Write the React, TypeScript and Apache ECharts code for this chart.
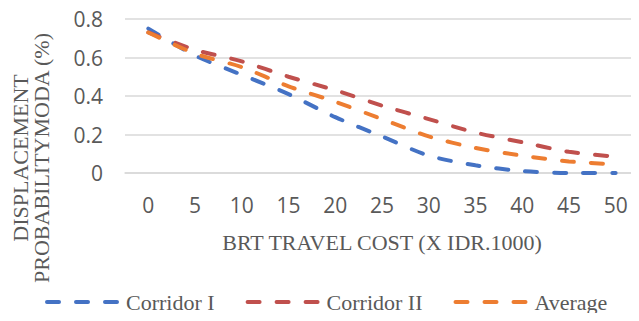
import React, { useEffect, useRef } from "react";
import * as echarts from "echarts";

// BRT travel cost categories (x 1000 IDR)
const costs = ["0", "5", "10", "15", "20", "25", "30", "35", "40", "45", "50"];

// Displacement probability per corridor
const corridorI = [0.75, 0.61, 0.51, 0.41, 0.29, 0.19, 0.09, 0.04, 0.01, 0.0, 0.0];
const corridorII = [0.73, 0.64, 0.58, 0.5, 0.43, 0.35, 0.28, 0.21, 0.16, 0.11, 0.085];
const average = [0.73, 0.62, 0.55, 0.45, 0.37, 0.28, 0.19, 0.13, 0.09, 0.06, 0.045];

const seriesNames = ["Corridor I", "Corridor II", "Average"];
const seriesColors = ["#4472C4", "#C0504D", "#ED7D31"];

const yTitle = "DISPLACEMENT\nPROBABILITYMODA (%)";
const xTitle = "BRT TRAVEL COST (X IDR.1000)";

const SERIF = "'Liberation Serif', 'Times New Roman', serif";
const SANS = "'Open Sans', 'Noto Sans', sans-serif";
const TEXT = "#595959";

export default function App() {
  const ref = useRef<HTMLDivElement>(null);

  useEffect(() => {
    if (!ref.current) return;
    const chart = echarts.init(ref.current, undefined, { renderer: "svg" });

    const mkSeries = (name: string, data: number[], color: string) => ({
      name,
      type: "line",
      data,
      symbol: "none",
      smooth: 0.25,
      color,
      lineStyle: { color, width: 4, type: [12, 17], cap: "round" },
    });

    chart.setOption({
      animation: false,
      grid: { left: 125, right: 0, top: 19, bottom: 148 },
      legend: {
        left: 45,
        top: 291,
        padding: 0,
        itemWidth: 74,
        itemHeight: 14,
        itemGap: 31,
        itemStyle: { opacity: 0 },
        lineStyle: { type: "inherit", width: 4, cap: "round" },
        textStyle: { fontFamily: SERIF, fontSize: 22, color: TEXT },
        data: seriesNames,
      },
      graphic: [
        {
          type: "text",
          x: 31,
          y: 158,
          rotation: Math.PI / 2,
          style: {
            text: yTitle,
            fontFamily: SERIF,
            fontSize: 22,
            lineHeight: 21,
            fill: TEXT,
            textAlign: "center",
            textVerticalAlign: "middle",
          },
        },
      ],
      xAxis: {
        type: "category",
        data: costs,
        boundaryGap: true,
        name: xTitle,
        nameLocation: "middle",
        nameGap: 58,
        nameTextStyle: { fontFamily: SERIF, fontSize: 22, color: TEXT },
        axisLine: { show: true, lineStyle: { color: "#D9D9D9", width: 1.5 } },
        axisTick: { show: false },
        axisLabel: { fontFamily: SANS, fontSize: 21, color: TEXT, margin: 21 },
      },
      yAxis: {
        type: "value",
        min: 0,
        max: 0.8,
        interval: 0.2,
        axisLine: { show: false },
        axisTick: { show: false },
        splitLine: { lineStyle: { color: "#D9D9D9", width: 1.5 } },
        axisLabel: {
          fontFamily: SANS,
          fontSize: 21,
          color: TEXT,
          margin: 22,
          formatter: (v: number) => (v === 0 ? "0" : v.toFixed(1)),
        },
      },
      series: [
        mkSeries(seriesNames[0], corridorI, seriesColors[0]),
        mkSeries(seriesNames[1], corridorII, seriesColors[1]),
        mkSeries(seriesNames[2], average, seriesColors[2]),
      ],
    });

    return () => chart.dispose();
  }, []);

  return <div ref={ref} style={{ width: 639, height: 321, margin: -8 }} />;
}
